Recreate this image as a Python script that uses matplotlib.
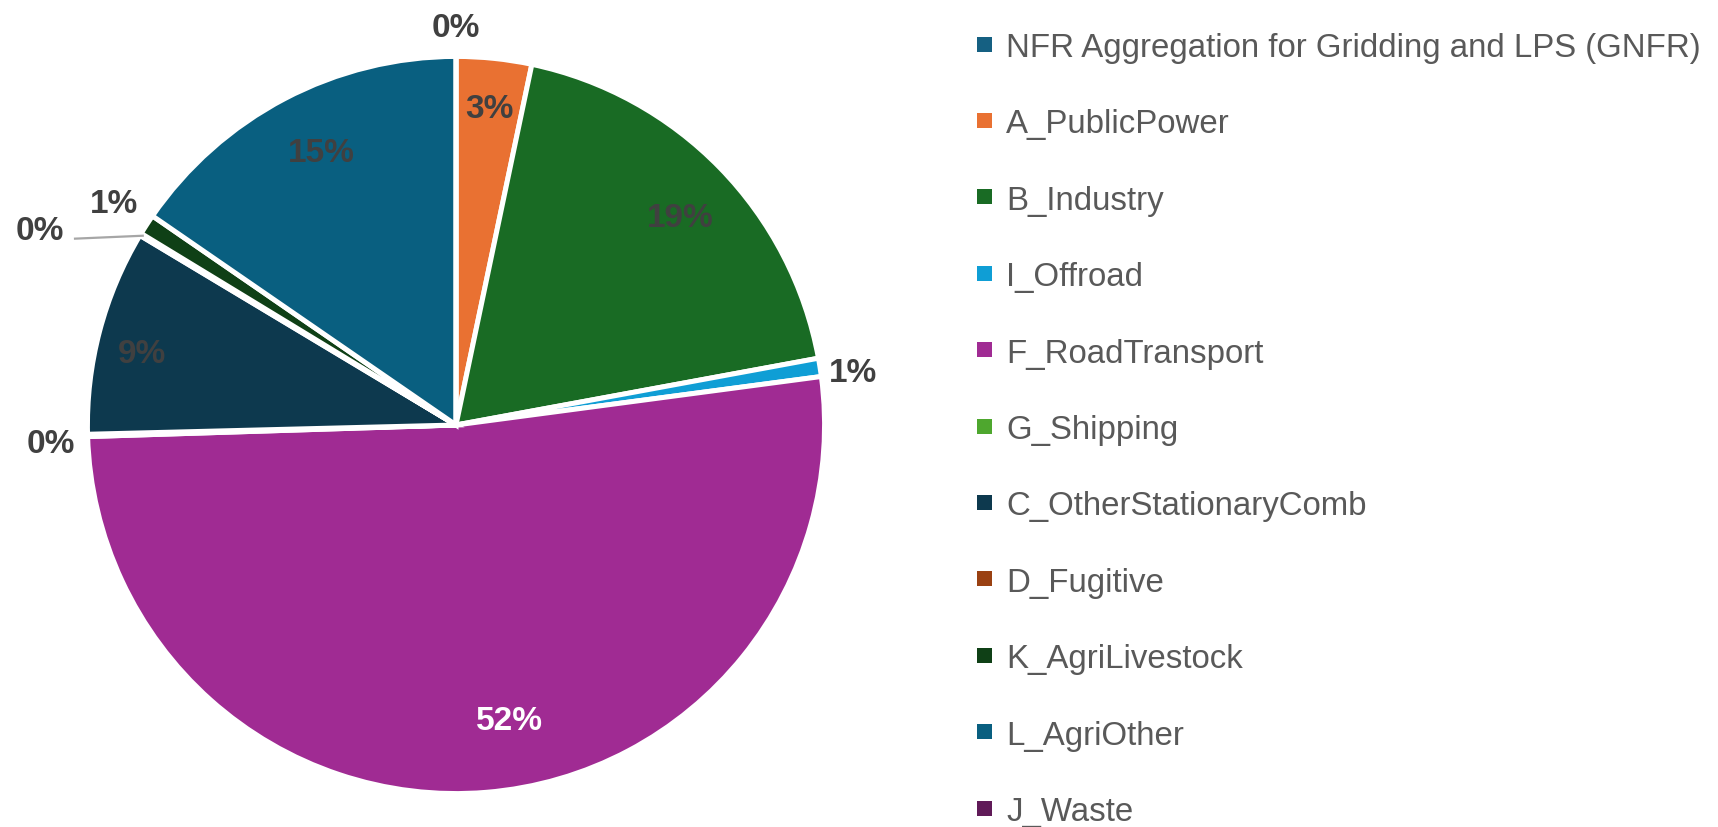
import numpy as np
import matplotlib
matplotlib.use('Agg')
import matplotlib.pyplot as plt
from matplotlib.patches import Rectangle

# ── Data ─────────────────────────────────────────────
categories = ['NFR Aggregation for Gridding and LPS (GNFR)', 'A_PublicPower', 'B_Industry',
              'I_Offroad', 'F_RoadTransport', 'G_Shipping', 'C_OtherStationaryComb',
              'D_Fugitive', 'K_AgriLivestock', 'L_AgriOther', 'J_Waste']
shares = [0.0, 3.3, 18.8, 0.8, 51.6, 0.1, 9.0, 0.1, 0.9, 15.4, 0.0]
colors = ['#156082', '#E97132', '#196B24', '#0F9ED5', '#A02B93', '#4EA72E',
          '#0D394E', '#9A4112', '#0F4016', '#095F80', '#601A58']

# label placement (radius as fraction of pie radius, angle nudge in degrees)
# None = no label (J_Waste sits under the top 0% label)
label_radius = [1.085, 0.87, 0.835, 1.093, 0.82, 1.108, 0.88, 1.0, 1.115, 0.83, None]
label_nudge = [0, 0, -1.5, -1.4, 5.5, 1.0, 2.0, 0, 0, -1.5, 0]
label_color = ['#404040'] * len(categories)
label_color[4] = 'white'

plt.rcParams['font.family'] = ['Liberation Sans', 'DejaVu Sans']

fig = plt.figure(figsize=(17.18, 8.28), dpi=100)
W, H = 1718, 828
cx, cy, R = 456, 426, 366
ax = fig.add_axes([(cx - R) / W, (H - cy - R) / H, 2 * R / W, 2 * R / H])

wedges, _ = ax.pie(shares, colors=colors, startangle=90, counterclock=False,
                   radius=1.007, normalize=True,
                   wedgeprops=dict(edgecolor='white', linewidth=3.6))
# pie() resets the limits, so set them afterwards
ax.set_xlim(-1, 1)
ax.set_ylim(-1, 1)
ax.axis('off')

total = sum(shares)
cum = 0.0
for i, val in enumerate(shares):
    mid = cum + val / 2
    cum += val
    r = label_radius[i]
    if r is None:
        continue
    ang = np.deg2rad(90 - mid / total * 360 + label_nudge[i])
    txt = f'{round(val / total * 100):.0f}%'
    rx, ry = r * np.cos(ang), r * np.sin(ang)
    if categories[i] == 'D_Fugitive':
        # label pulled out to the left with a leader line
        ax.plot([rx, rx - 0.185], [ry, ry - 0.008],
                color='#A6A6A6', lw=1.6, clip_on=False)
        ax.text(rx - 0.28, ry + 0.015, txt, ha='center', va='center', fontsize=24,
                fontweight='bold', color='#404040')
        continue
    ax.text(rx, ry, txt, ha='center', va='center',
            fontsize=24, fontweight='bold', color=label_color[i])

# ── Legend ───────────────────────────────────────────
y0, step = 45, 76.4
for i, (name, col) in enumerate(zip(categories, colors)):
    yc = y0 + i * step
    fig.patches.append(Rectangle((977 / W, (H - yc - 7.5) / H), 15 / W, 15 / H,
                                 transform=fig.transFigure, facecolor=col,
                                 edgecolor='none'))
    fig.text(1006 / W, (H - yc) / H, name, ha='left', va='center_baseline',
             fontsize=23.8, color='#595959')

fig.savefig('out.png', dpi=100)
